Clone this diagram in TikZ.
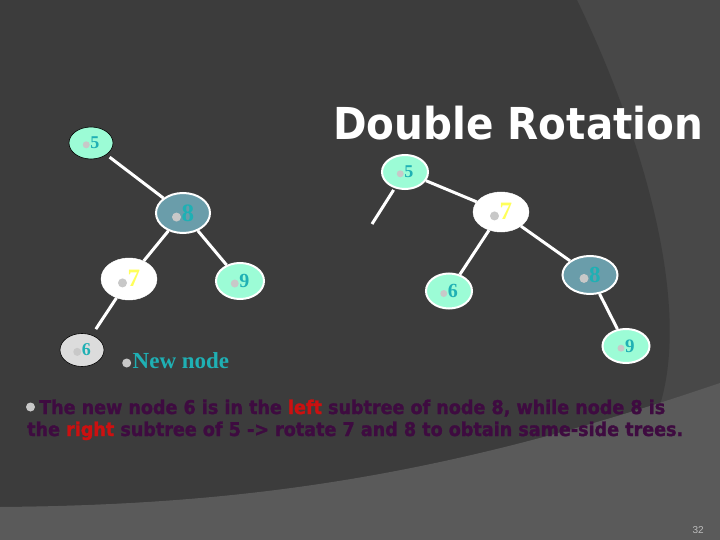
\documentclass[tikz,border=0pt]{standalone}
\usepackage{fontspec}
\usepackage{graphicx}
\setmainfont{Liberation Serif}
\newfontfamily\djb{DejaVu Sans}
\newfontfamily\djheavy{DejaVu Sans}[BoldFeatures={FakeBold=1.6}]
\newfontfamily\lsans{Liberation Sans}
\usetikzlibrary{shapes.geometric}
\definecolor{bgdark}{HTML}{3C3C3C}
\definecolor{bgmid}{HTML}{484848}
\definecolor{bglight}{HTML}{5A5A5A}
\definecolor{aqua}{HTML}{9CFCD6}
\definecolor{steel}{HTML}{6A9DAA}
\definecolor{tealtxt}{HTML}{1FB0B4}
\definecolor{yel}{HTML}{FFFF5A}
\definecolor{bulgray}{HTML}{C8C8C8}
\definecolor{lgray}{HTML}{DCDCDC}
\definecolor{purp}{HTML}{3E0B40}
\definecolor{redw}{HTML}{CC1010}
\newcommand\bul[2]{\tikz[baseline=-#2]\fill[bulgray] (0,0) circle (#1);}
\newcommand\lab[4]{{\fontsize{#1}{#1}\selectfont\bfseries\bul{#4}{4pt}\hspace{0.5pt}\textcolor{#2}{#3}}}
\tikzset{
  tn/.style={ellipse, inner sep=0pt},
  wedge/.style={draw=white, line width=3pt},
}
\begin{document}
\begin{tikzpicture}[x=1pt,y=-1pt]
\useasboundingbox (0,0) rectangle (720,540);
% background
\fill[bgmid] (0,0) rectangle (720,540);
\fill[bgdark] (0,0) -- (577,0) .. controls (640,130) and (692,300) .. (660,405)
  .. controls (450,475) and (250,505) .. (0,507) -- cycle;
\fill[bglight] (0,507) .. controls (250,505) and (450,475) .. (720,383) -- (720,540) -- (0,540) -- cycle;

% title
\node[anchor=base west, inner sep=0pt, text=white] (title) at (333,140)
  {\resizebox{370pt}{\height}{\fontsize{44}{44}\selectfont\djb\bfseries Double Rotation}};

% left tree
\node[tn, fill=aqua, draw=black, line width=0.6pt, minimum width=44pt, minimum height=32pt] (l5) at (91,143) {\raisebox{-3pt}{\lab{18}{tealtxt}{5}{3.5pt}}};
\node[tn, fill=steel, draw=white, line width=2pt, minimum width=54pt, minimum height=40pt] (l8) at (183,213) {\lab{25}{tealtxt}{8}{4.5pt}};
\node[tn, fill=white, draw=white, minimum width=56pt, minimum height=42pt] (l7) at (129,279) {\lab{25}{yel}{7}{4.5pt}};
\node[tn, fill=aqua, draw=white, line width=2pt, minimum width=48pt, minimum height=36pt] (l9) at (240,281) {\raisebox{-3pt}{\lab{20}{tealtxt}{9}{4pt}}};
\node[tn, fill=lgray, draw=black, line width=0.6pt, minimum width=44pt, minimum height=33pt] (l6) at (82,350) {\raisebox{-2pt}{\lab{18}{tealtxt}{6}{4pt}}};
\draw[wedge, shorten <=4pt] (l5) -- (l8);
\draw[wedge] (l8) -- (l7);
\draw[wedge] (l8) -- (l9);
\draw[wedge, shorten >=7pt] (l7) -- (l6);

\node[anchor=base west, inner sep=0pt, text=tealtxt] (newn) at (122,368)
  {\bul{4.5pt}{5pt}\hspace{1.5pt}\fontsize{23}{23}\selectfont\bfseries New node};

% right tree
\coordinate (free) at (372,224);
\node[tn, fill=aqua, draw=white, line width=2pt, minimum width=46pt, minimum height=34pt] (r5) at (405,172) {\raisebox{-2pt}{\lab{18}{tealtxt}{5}{3.5pt}}};
\node[tn, fill=white, draw=white, minimum width=56pt, minimum height=40pt] (r7) at (501,212) {\lab{25}{yel}{7}{4.5pt}};
\node[tn, fill=aqua, draw=white, line width=2pt, minimum width=46pt, minimum height=35pt] (r6) at (449,291) {\raisebox{-3pt}{\lab{20}{tealtxt}{6}{3.5pt}}};
\node[tn, fill=steel, draw=white, line width=2pt, minimum width=55pt, minimum height=38pt] (r8) at (590,275) {\lab{23}{tealtxt}{8}{4.5pt}};
\node[tn, fill=aqua, draw=white, line width=2pt, minimum width=47pt, minimum height=34pt] (r9) at (626,346) {\raisebox{-3pt}{\lab{19}{tealtxt}{9}{3.5pt}}};
\draw[wedge, shorten <=2pt] (r5) -- (free);
\draw[wedge] (r5) -- (r7);
\draw[wedge] (r7) -- (r6);
\draw[wedge] (r7) -- (r8);
\draw[wedge] (r8) -- (r9);

% explanation
\node[circle, fill=bulgray, inner sep=0pt, minimum size=9pt] (b1) at (30.5,407) {};
\node[anchor=base west, inner sep=0pt, text=purp] (line1) at (39,414)
  {\resizebox{626pt}{\height}{\fontsize{19}{19}\selectfont\djheavy\bfseries The new node 6 is in the \textcolor{redw}{left} subtree of node 8, while node 8 is}};
\node[anchor=base west, inner sep=0pt, text=purp] (line2) at (27,436)
  {\resizebox{656pt}{\height}{\fontsize{19}{19}\selectfont\djheavy\bfseries the \textcolor{redw}{right} subtree of 5 -> rotate 7 and 8 to obtain same-side trees.}};

% page number
\node[anchor=base east, inner sep=0pt, text=bulgray!85!gray] (pg) at (704,533) {\fontsize{10}{10}\selectfont\lsans 32};
\end{tikzpicture}
\end{document}
